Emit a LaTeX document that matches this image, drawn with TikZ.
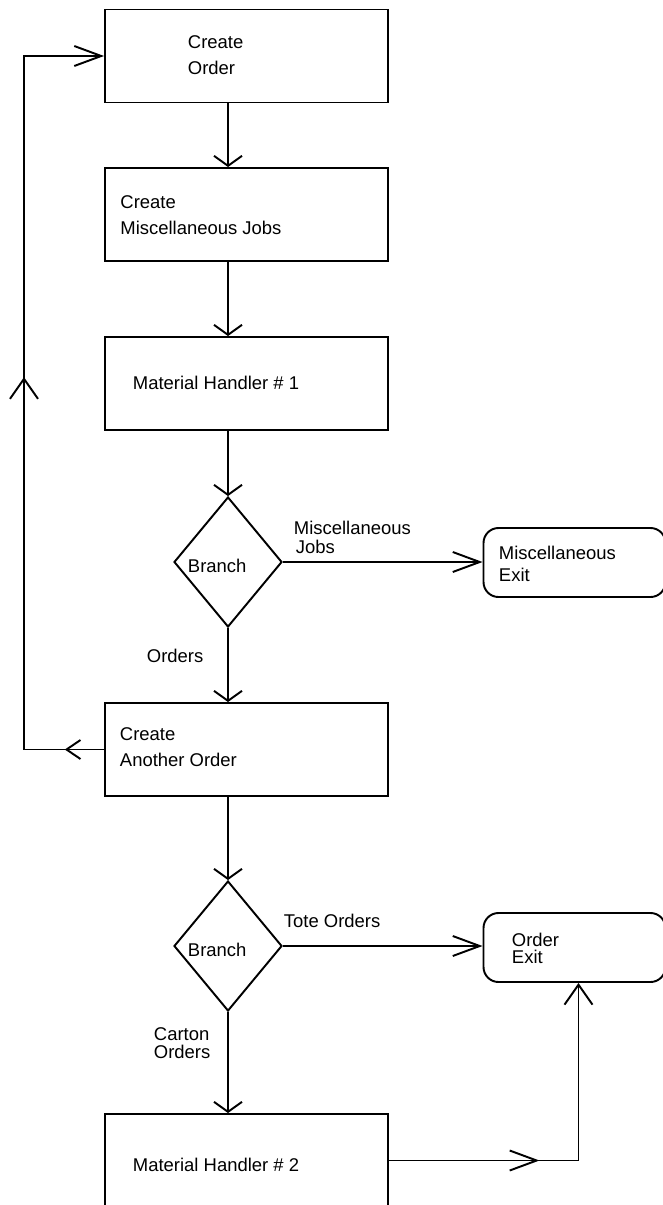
\documentclass[tikz,border=0pt]{standalone}
\usepackage{fontspec}
\setmainfont{Liberation Sans}
\usetikzlibrary{shapes.geometric, arrows.meta, decorations.markings}

\tikzset{
    harr/.tip={Straight Barb[length=0.54cm, width=0.40cm]},
    larr/.tip={Straight Barb[length=0.28cm, width=0.38cm]},
    uarr/.tip={Straight Barb[length=0.40cm, width=0.56cm]},
    darr/.tip={Straight Barb[length=0.20cm, width=0.56cm]},
}

\begin{document}
\begin{tikzpicture}[line width=1.1pt,
    box/.style={draw, minimum width=5.66cm, minimum height=1.86cm, inner sep=0},
    branch/.style={draw, diamond, minimum width=2.16cm, minimum height=2.6cm, inner sep=0},
    exitbox/.style={draw, rounded corners=0.3cm, minimum width=3.64cm, minimum height=1.38cm, inner sep=0},
    txt/.style={anchor=west, align=left, inner sep=0, font=\fontsize{10.5}{#1}\selectfont},
    txt/.default=14.8pt,
    midarr/.style 2 args={postaction={decorate, decoration={markings,
        mark=at position #1 with {\arrow{#2}}}}}]

    \useasboundingbox (0,0) rectangle (13.26,-24.1);

    % Boites
    \node[box] (order) at (4.93,-1.12) {};
    \node[box] (misc) at (4.93,-4.29) {};
    \node[box] (mh1) at (4.93,-7.67) {};
    \node[branch] (br1) at (4.56,-11.24) {};
    \node[exitbox] (mexit) at (11.49,-11.25) {};
    \node[box] (another) at (4.93,-14.99) {};
    \node[branch] (br2) at (4.56,-18.92) {};
    \node[exitbox] (oexit) at (11.49,-18.95) {};
    \node[box] (mh2) at (4.93,-23.21) {};
    \coordinate (axis) at (4.56,0);
    \coordinate (loop) at (0.48,0);
    \coordinate (oin) at ([xshift=0.08cm]oexit.south);

    % Textes
    \node[txt] (torder) at (3.74,-1.10) {Create\\Order};
    \node[txt] (tmisc) at (2.39,-4.30) {Create\\Miscellaneous Jobs};
    \node[txt] (tmh1) at (2.64,-7.66) {Material Handler \# 1};
    \node[txt] (tbr1) at (3.74,-11.32) {Branch};
    \node[txt=12.5pt] (tmexit) at (9.96,-11.28) {Miscellaneous\\Exit};
    \node[txt] (tanother) at (2.38,-14.94) {Create\\Another Order};
    \node[txt] (tbr2) at (3.74,-19.0) {Branch};
    \node[txt=9.7pt] (toexit) at (10.22,-18.96) {Order\\Exit};
    \node[txt] (tmh2) at (2.64,-23.3) {Material Handler \# 2};

    % Legendes des fleches
    \node[txt=10.8pt] (ljobs) at (5.86,-10.74) {Miscellaneous\\\hspace{0.04cm}Jobs};
    \node[txt] (lorders) at (2.92,-13.12) {Orders};
    \node[txt] (ltote) at (5.66,-18.42) {Tote Orders};
    \node[txt=10.2pt] (lcarton) at (3.06,-20.86) {Carton\\Orders};

    % Fleches principales
    \draw[-darr] (axis |- order.south) -- (axis |- misc.north);
    \draw[-darr] (axis |- misc.south) -- (axis |- mh1.north);
    \draw[-darr] (axis |- mh1.south) -- (br1.north);
    \draw[-harr] (br1.east) -- (br1.east -| mexit.west);
    \draw[-darr] (br1.south) -- (axis |- another.north);
    \draw[-darr] (axis |- another.south) -- (br2.north);
    \draw[-harr] (br2.east) -- (br2.east -| oexit.west);
    \draw[-darr] (br2.south) -- (axis |- mh2.north);

    % Boucle vers Create Order
    \draw[-harr, postaction={decorate, decoration={markings,
            mark=at position 0.046 with {\arrow{larr}},
            mark=at position 0.53 with {\arrow{uarr}}}}]
        (another.west) -- (another.west -| loop) -- (order.west -| loop) -- (order.west);

    % Sortie du second manutentionnaire
    \draw[-uarr, midarr={0.41}{harr}]
        (mh2.east) -- (mh2.east -| oin) -- (oin);

\end{tikzpicture}
\end{document}
